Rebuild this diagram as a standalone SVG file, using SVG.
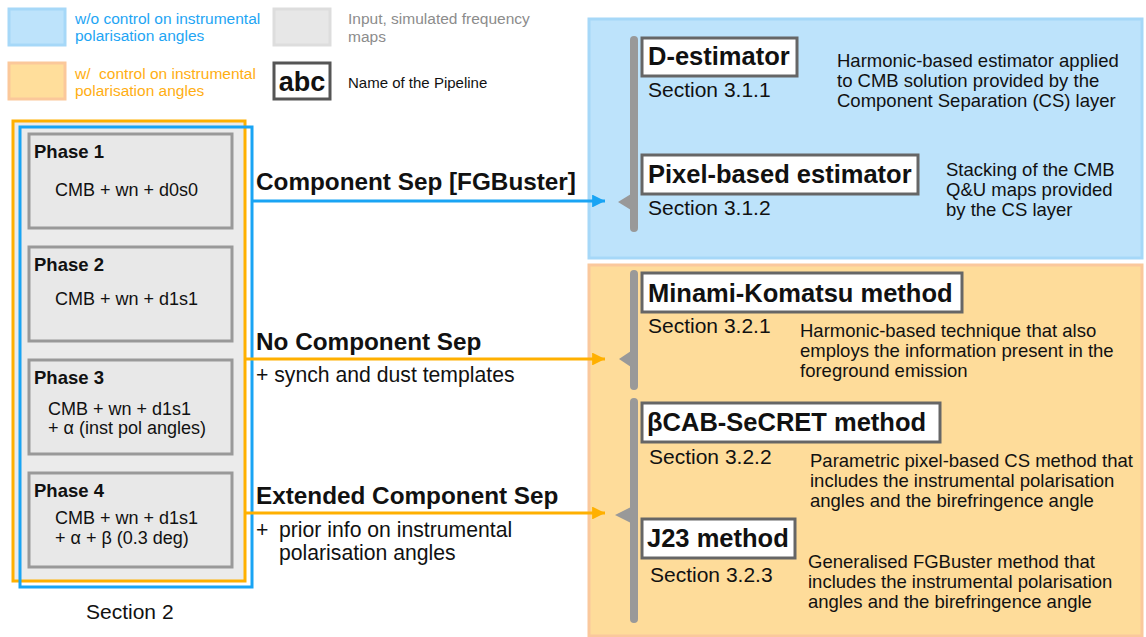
<svg xmlns="http://www.w3.org/2000/svg" width="1146" height="637" viewBox="0 0 1146 637">
<style>
text{font-family:"Liberation Sans",Arial,sans-serif;fill:#111}
.leg{font-size:15.5px}
.ph{font-size:18.5px;font-weight:bold}
.eq{font-size:18px}
.lab{font-size:24.3px;font-weight:bold}
.sub{font-size:21.2px}
.pn{font-size:25.5px;font-weight:bold}
.sec{font-size:21px}
.desc{font-size:18.5px}
.phase{fill:#E8E8E8;stroke:#999;stroke-width:3}
.pipe{fill:#fff;stroke:#666;stroke-width:3}
.bar{fill:#999}
</style>
<defs>
<marker id="ab" viewBox="0 0 10 10" refX="10" refY="5" markerWidth="4.3" markerHeight="4.3" orient="auto" markerUnits="strokeWidth"><path d="M0,0 L10,5 L0,10 z" fill="#19A4F4"/></marker>
<marker id="ao" viewBox="0 0 10 10" refX="10" refY="5" markerWidth="4.3" markerHeight="4.3" orient="auto" markerUnits="strokeWidth"><path d="M0,0 L10,5 L0,10 z" fill="#FFB000"/></marker>
</defs>
<rect width="1146" height="637" fill="#fff"/>
<g id="legend">
<rect x="9" y="9" width="56" height="36" fill="#BDE3FB" stroke="#A6D8F8" stroke-width="3"/>
<text class="leg" x="75" y="24" style="fill:#1EA5F4">w/o control on instrumental</text>
<text class="leg" x="75" y="41" style="fill:#1EA5F4">polarisation angles</text>
<rect x="9" y="63" width="56" height="36" fill="#FFDE9B" stroke="#FBC89A" stroke-width="3"/>
<text class="leg" x="75" y="79" style="fill:#FFAE12">w/&#160; control on instrumental</text>
<text class="leg" x="75" y="96" style="fill:#FFAE12">polarisation angles</text>
<rect x="274" y="9" width="56" height="36" fill="#E7E7E7" stroke="#DDDDDD" stroke-width="3"/>
<text class="leg" x="348" y="24" style="fill:#8C8C8C">Input, simulated frequency</text>
<text class="leg" x="348" y="42" style="fill:#8C8C8C">maps</text>
<rect x="274" y="63" width="56" height="36" fill="#fff" stroke="#555" stroke-width="3"/>
<text x="302" y="91" text-anchor="middle" style="font-size:27px;font-weight:bold">abc</text>
<text class="leg" x="348" y="88" style="font-size:15px">Name of the Pipeline</text>
</g>
<g id="inputs">
<rect x="13" y="121" width="232" height="460" fill="#EBEBEB" stroke="#FFB000" stroke-width="3"/>
<rect x="20" y="127" width="232" height="460" fill="none" stroke="#19A4F4" stroke-width="3"/>
<text class="sec" x="86" y="619">Section 2</text>
</g>
<g id="phase1">
<rect class="phase" x="29" y="134" width="203" height="94"/>
<text class="ph" x="34" y="158">Phase 1</text>
<text class="eq" x="55" y="196">CMB + wn + d0s0</text>
</g>
<g id="phase2">
<rect class="phase" x="29" y="247" width="203" height="94"/>
<text class="ph" x="34" y="271">Phase 2</text>
<text class="eq" x="55" y="305">CMB + wn + d1s1</text>
</g>
<g id="phase3">
<rect class="phase" x="29" y="360" width="203" height="94"/>
<text class="ph" x="34" y="384">Phase 3</text>
<text class="eq" x="48" y="415">CMB + wn + d1s1</text>
<text class="eq" x="48" y="434">+ α (inst pol angles)</text>
</g>
<g id="phase4">
<rect class="phase" x="29" y="473" width="203" height="94"/>
<text class="ph" x="34" y="497">Phase 4</text>
<text class="eq" x="55" y="524">CMB + wn + d1s1</text>
<text class="eq" x="55" y="544">+ α + β (0.3 deg)</text>
</g>
<g id="panel-blue">
<rect x="589" y="19" width="553" height="239" fill="#BDE3FB" stroke="#A6D8F8" stroke-width="3"/>
<rect class="bar" x="630" y="36" width="8" height="196" rx="4"/>
<path class="bar" d="M631,194 L618,202 L631,210 z"/>
</g>
<g id="panel-orange">
<rect x="589" y="265" width="553" height="371" fill="#FEDC9A" stroke="#FAC89C" stroke-width="3"/>
<rect class="bar" x="630" y="270" width="8" height="120" rx="4"/>
<path class="bar" d="M631,351 L619,359 L631,367 z"/>
<rect class="bar" x="630" y="398" width="8" height="225" rx="4"/>
<path class="bar" d="M631,507 L615,515 L631,523 z"/>
</g>
<g id="d-estimator">
<rect class="pipe" x="642" y="38" width="155" height="38"/>
<text class="pn" x="648" y="65">D-estimator</text>
<text class="sec" x="648" y="97">Section 3.1.1</text>
<text class="desc" x="837" y="67">Harmonic-based estimator applied</text>
<text class="desc" x="837" y="87">to CMB solution provided by the</text>
<text class="desc" x="837" y="107">Component Separation (CS) layer</text>
</g>
<g id="pixel-estimator">
<rect class="pipe" x="642" y="155" width="276" height="39"/>
<text class="pn" x="648" y="183">Pixel-based estimator</text>
<text class="sec" x="648" y="215">Section 3.1.2</text>
<text class="desc" x="946" y="176">Stacking of the CMB</text>
<text class="desc" x="946" y="196">Q&amp;U maps provided</text>
<text class="desc" x="946" y="216">by the CS layer</text>
</g>
<g id="minami-komatsu">
<rect class="pipe" x="642" y="273" width="320" height="39"/>
<text class="pn" x="648" y="302">Minami-Komatsu method</text>
<text class="sec" x="648" y="333">Section 3.2.1</text>
<text class="desc" x="800" y="337">Harmonic-based technique that also</text>
<text class="desc" x="800" y="357">employs the information present in the</text>
<text class="desc" x="800" y="377">foreground emission</text>
</g>
<g id="bcab-secret">
<rect class="pipe" x="642" y="403" width="298" height="39"/>
<text class="pn" x="647" y="431">βCAB-SeCRET method</text>
<text class="sec" x="649" y="464">Section 3.2.2</text>
<text class="desc" x="810" y="467">Parametric pixel-based CS method that</text>
<text class="desc" x="810" y="487">includes the instrumental polarisation</text>
<text class="desc" x="810" y="507">angles and the birefringence angle</text>
</g>
<g id="j23">
<rect class="pipe" x="642" y="519" width="153" height="39"/>
<text class="pn" x="647" y="547">J23 method</text>
<text class="sec" x="650" y="582">Section 3.2.3</text>
<text class="desc" x="808" y="568">Generalised FGBuster method that</text>
<text class="desc" x="808" y="588">includes the instrumental polarisation</text>
<text class="desc" x="808" y="608">angles and the birefringence angle</text>
</g>
<g id="connectors">
<line x1="252" y1="201" x2="605" y2="201" stroke="#19A4F4" stroke-width="3" marker-end="url(#ab)"/>
<line x1="245" y1="359" x2="605" y2="359" stroke="#FFB000" stroke-width="3" marker-end="url(#ao)"/>
<line x1="245" y1="513" x2="605" y2="513" stroke="#FFB000" stroke-width="3" marker-end="url(#ao)"/>
<text class="lab" x="256" y="190">Component Sep [FGBuster]</text>
<text class="lab" x="256" y="350">No Component Sep</text>
<text class="sub" x="256" y="382">+ synch and dust templates</text>
<text class="lab" x="256" y="504">Extended Component Sep</text>
<text class="sub" x="256" y="537">+</text>
<text class="sub" x="279" y="537">prior info on instrumental</text>
<text class="sub" x="279" y="560">polarisation angles</text>
</g>
</svg>
